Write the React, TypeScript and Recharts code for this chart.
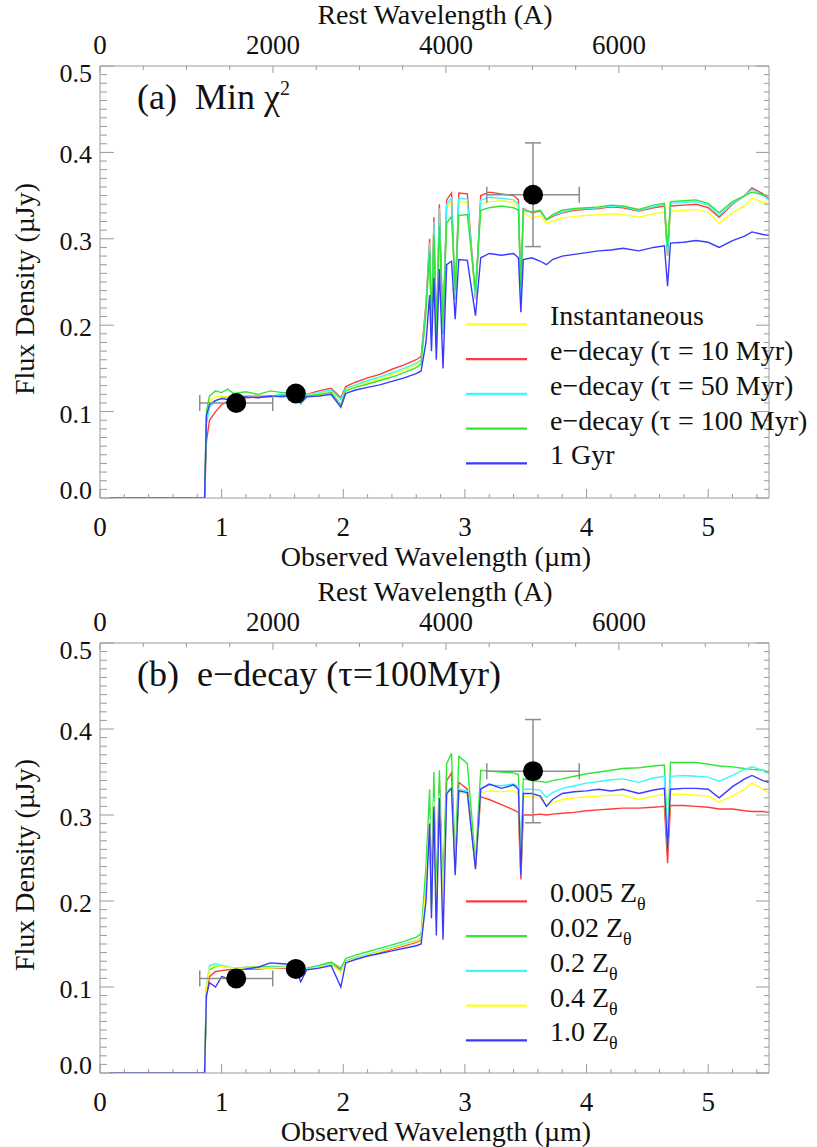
import React from "react";
import { ComposedChart, Line, Scatter, ErrorBar, XAxis, YAxis } from "recharts";

// observed wavelength grid (um), shared by every model spectrum
const WAVE = [
  0.08, 0.86, 0.875, 0.9, 0.95, 1.0, 1.05, 1.1, 1.2, 1.3,
  1.4, 1.5, 1.6, 1.65, 1.7, 1.8, 1.9, 1.98, 2.02, 2.1,
  2.2, 2.3, 2.4, 2.5, 2.6, 2.64, 2.68, 2.71, 2.725, 2.745,
  2.765, 2.79, 2.82, 2.85, 2.89, 2.92, 2.95, 3.02, 3.087, 3.13,
  3.2, 3.3, 3.4, 3.44, 3.46, 3.48, 3.55, 3.62, 3.67, 3.72,
  3.8, 3.9, 4.0, 4.1, 4.2, 4.3, 4.43, 4.55, 4.64, 4.666,
  4.69, 4.8, 4.9, 5.0, 5.09, 5.2, 5.3, 5.36, 5.45, 5.5,
];

// panel (a): star formation histories
const A_INST = [
  0, 0, 0.095, 0.112, 0.117, 0.118, 0.117, 0.118, 0.118, 0.119,
  0.118, 0.12, 0.12, 0.112, 0.119, 0.121, 0.124, 0.114, 0.126, 0.13,
  0.134, 0.138, 0.143, 0.148, 0.154, 0.158, 0.215, 0.29, 0.19, 0.315,
  0.18, 0.33, 0.19, 0.335, 0.344, 0.23, 0.343, 0.342, 0.23, 0.34,
  0.343, 0.344, 0.342, 0.336, 0.235, 0.33, 0.324, 0.327, 0.318, 0.32,
  0.324, 0.326, 0.327, 0.328, 0.329, 0.328, 0.325, 0.329, 0.331, 0.28,
  0.332, 0.333, 0.334, 0.331, 0.318, 0.33, 0.338, 0.347, 0.342, 0.34,
];
const A_TAU10 = [
  0, 0, 0.065, 0.09, 0.1, 0.108, 0.112, 0.114, 0.116, 0.117,
  0.117, 0.119, 0.12, 0.11, 0.12, 0.124, 0.127, 0.116, 0.129, 0.134,
  0.139, 0.143, 0.149, 0.154, 0.16, 0.164, 0.225, 0.3, 0.19, 0.325,
  0.18, 0.34, 0.19, 0.345, 0.353, 0.23, 0.353, 0.352, 0.23, 0.35,
  0.354, 0.352, 0.35, 0.345, 0.235, 0.335, 0.33, 0.332, 0.322, 0.326,
  0.33, 0.333, 0.334, 0.335, 0.337, 0.336, 0.332, 0.336, 0.338, 0.28,
  0.338, 0.339, 0.34, 0.336, 0.325, 0.34, 0.35, 0.359, 0.352, 0.346,
];
const A_TAU50 = [
  0, 0, 0.085, 0.105, 0.112, 0.116, 0.116, 0.117, 0.118, 0.119,
  0.118, 0.12, 0.121, 0.111, 0.12, 0.122, 0.125, 0.114, 0.127, 0.131,
  0.136, 0.14, 0.145, 0.15, 0.156, 0.16, 0.22, 0.295, 0.19, 0.32,
  0.18, 0.335, 0.19, 0.34, 0.347, 0.23, 0.347, 0.346, 0.23, 0.345,
  0.348, 0.347, 0.345, 0.34, 0.235, 0.334, 0.331, 0.333, 0.323, 0.327,
  0.331, 0.334, 0.335, 0.336, 0.338, 0.337, 0.333, 0.337, 0.34, 0.28,
  0.341, 0.342, 0.343, 0.339, 0.327, 0.341, 0.35, 0.357, 0.35, 0.345,
];
const A_TAU100 = [
  0, 0, 0.1, 0.118, 0.124, 0.122, 0.126, 0.121, 0.123, 0.12,
  0.124, 0.122, 0.122, 0.109, 0.118, 0.12, 0.122, 0.108, 0.124, 0.128,
  0.132, 0.136, 0.14, 0.145, 0.151, 0.155, 0.215, 0.285, 0.2, 0.305,
  0.19, 0.315, 0.2, 0.318, 0.326, 0.24, 0.327, 0.328, 0.24, 0.333,
  0.336, 0.338, 0.336, 0.333, 0.245, 0.333, 0.331, 0.333, 0.322, 0.328,
  0.333, 0.335, 0.336, 0.337, 0.339, 0.338, 0.334, 0.339, 0.341, 0.29,
  0.343, 0.344, 0.345, 0.341, 0.33, 0.343, 0.35, 0.354, 0.351, 0.35,
];
const A_GYR1 = [
  0, 0, 0.095, 0.108, 0.113, 0.115, 0.114, 0.116, 0.117, 0.116,
  0.118, 0.117, 0.119, 0.11, 0.117, 0.118, 0.12, 0.105, 0.121, 0.125,
  0.128, 0.131, 0.135, 0.139, 0.144, 0.147, 0.18, 0.235, 0.17, 0.255,
  0.16, 0.265, 0.15, 0.27, 0.274, 0.207, 0.276, 0.275, 0.211, 0.278,
  0.283, 0.281, 0.283, 0.278, 0.215, 0.276, 0.278, 0.274, 0.27, 0.276,
  0.28, 0.282, 0.284, 0.286, 0.287, 0.289, 0.286, 0.29, 0.292, 0.245,
  0.295, 0.296, 0.298, 0.296, 0.29, 0.298, 0.303, 0.308, 0.305, 0.304,
];

// panel (b): metallicities
const B_Z0005 = [
  0, 0, 0.09, 0.112, 0.118, 0.119, 0.12, 0.12, 0.121, 0.121,
  0.122, 0.122, 0.122, 0.117, 0.121, 0.124, 0.127, 0.12, 0.13, 0.134,
  0.137, 0.14, 0.144, 0.148, 0.152, 0.155, 0.22, 0.3, 0.2, 0.32,
  0.19, 0.335, 0.2, 0.34, 0.349, 0.235, 0.338, 0.33, 0.24, 0.321,
  0.318, 0.312, 0.306, 0.303, 0.225, 0.3, 0.3, 0.301, 0.3, 0.301,
  0.302, 0.303, 0.305, 0.306, 0.307, 0.308, 0.308, 0.309, 0.31, 0.244,
  0.311, 0.311, 0.31, 0.309, 0.307, 0.307, 0.305, 0.304, 0.304, 0.303,
];
const B_Z002 = [
  0, 0, 0.1, 0.12, 0.124, 0.124, 0.123, 0.122, 0.123, 0.123,
  0.124, 0.124, 0.124, 0.119, 0.122, 0.125, 0.129, 0.122, 0.133, 0.137,
  0.141, 0.145, 0.149, 0.153, 0.158, 0.162, 0.24, 0.33, 0.21, 0.35,
  0.2, 0.352, 0.21, 0.36, 0.372, 0.24, 0.368, 0.36, 0.245, 0.352,
  0.351, 0.35, 0.349, 0.347, 0.235, 0.342, 0.34, 0.339, 0.338, 0.34,
  0.342, 0.345, 0.348, 0.35, 0.352, 0.354, 0.355, 0.357, 0.358, 0.27,
  0.361, 0.361, 0.361, 0.359, 0.357, 0.356, 0.354, 0.353, 0.352, 0.35,
];
const B_Z02 = [
  0, 0, 0.1, 0.125, 0.127, 0.125, 0.124, 0.122, 0.122, 0.122,
  0.123, 0.123, 0.123, 0.116, 0.121, 0.124, 0.127, 0.118, 0.13, 0.134,
  0.138, 0.142, 0.146, 0.15, 0.154, 0.157, 0.22, 0.3, 0.19, 0.32,
  0.18, 0.325, 0.19, 0.327, 0.332, 0.235, 0.33, 0.328, 0.24, 0.331,
  0.335, 0.334, 0.336, 0.333, 0.235, 0.33, 0.33, 0.329, 0.32, 0.326,
  0.331, 0.334, 0.337, 0.339, 0.341, 0.342, 0.338, 0.343, 0.345, 0.27,
  0.345, 0.346, 0.345, 0.344, 0.339, 0.346, 0.353, 0.356, 0.352, 0.348,
];
const B_Z04 = [
  0, 0, 0.098, 0.122, 0.125, 0.124, 0.123, 0.122, 0.122, 0.122,
  0.122, 0.123, 0.123, 0.116, 0.12, 0.123, 0.126, 0.117, 0.129, 0.133,
  0.137, 0.141, 0.145, 0.149, 0.153, 0.156, 0.215, 0.295, 0.19, 0.315,
  0.18, 0.322, 0.19, 0.325, 0.329, 0.235, 0.326, 0.324, 0.24, 0.326,
  0.328, 0.327, 0.328, 0.325, 0.23, 0.322, 0.321, 0.32, 0.31, 0.314,
  0.318, 0.32, 0.321, 0.322, 0.323, 0.323, 0.318, 0.322, 0.324, 0.26,
  0.324, 0.324, 0.323, 0.322, 0.315, 0.322, 0.33, 0.337, 0.33, 0.325,
];
const B_Z10 = [
  0, 0, 0.09, 0.105, 0.1, 0.112, 0.11, 0.118, 0.121, 0.123,
  0.128, 0.127, 0.126, 0.106, 0.12, 0.122, 0.125, 0.1, 0.128, 0.132,
  0.136, 0.139, 0.142, 0.145, 0.148, 0.15, 0.2, 0.29, 0.18, 0.31,
  0.16, 0.32, 0.155, 0.325, 0.331, 0.23, 0.328, 0.326, 0.237, 0.33,
  0.336, 0.331, 0.335, 0.33, 0.23, 0.325, 0.325, 0.322, 0.31, 0.318,
  0.325, 0.327, 0.328, 0.33, 0.328, 0.33, 0.325, 0.329, 0.331, 0.26,
  0.33, 0.331, 0.331, 0.33, 0.32, 0.333, 0.342, 0.346, 0.34, 0.338,
];

// photometry (same in both panels)
const PHOT_X = [1.12, 1.61, 3.56];
const PHOT_Y = [0.11, 0.121, 0.351];
const PHOT_XERR = [0.3, 0, 0.38];
const PHOT_YERR = [0, 0, 0.06];

const X_MAJOR = [0, 1, 2, 3, 4, 5];
const Y_MAJOR = [0, 0.1, 0.2, 0.3, 0.4, 0.5];
const REST_LABELS = [0, 2000, 4000, 6000];
const ONE_PLUS_Z = 7.11;
const X_MAX = 5.5;

const xTicks = Array.from({ length: 28 }, (_, i) => Math.round(i * 2) / 10);
const yTicks = Array.from({ length: 51 }, (_, i) => i / 100);
// rest-frame ticks every 500 A, placed on the observed scale
const restTicks = Array.from({ length: 16 }, (_, i) => (i * 500 * ONE_PLUS_Z) / 1e4);

const FONT = '"Liberation Serif", "Times New Roman", serif';
const FRAME = "#9a9a9a";
const INK = "#111";

const YELLOW = "#ffff1a";
const RED = "#ff3b3b";
const CYAN = "#3cf6ff";
const GREEN = "#33e633";
const BLUE = "#3a3aff";

const near = (a: number, list: number[]) => list.some((b) => Math.abs(a - b) < 1e-9);

const BottomTick = ({ x, y, payload }: any) => {
  const major = near(payload.value, X_MAJOR);
  return (
    <g>
      <line x1={x} x2={x} y1={y} y2={y - (major ? 9 : 4)} stroke={FRAME} />
      {major && (
        <text x={x} y={y + 38} textAnchor="middle" fontFamily={FONT} fontSize={27} fill={INK}>
          {payload.value}
        </text>
      )}
    </g>
  );
};

const TopTick = ({ x, y, payload }: any) => {
  const rest = Math.round((payload.value / ONE_PLUS_Z) * 1e4);
  const major = REST_LABELS.includes(rest);
  return (
    <g>
      <line x1={x} x2={x} y1={y} y2={y + (major ? 7 : 4)} stroke={FRAME} />
      {major && (
        <text x={x} y={y - 12} textAnchor="middle" fontFamily={FONT} fontSize={27} fill={INK}>
          {rest}
        </text>
      )}
    </g>
  );
};

const LeftTick = ({ x, y, payload }: any) => {
  const v = payload.value;
  const major = near(v, Y_MAJOR);
  const shift = v > 0.45 ? 16 : v < 0.05 ? 1 : 11;
  return (
    <g>
      <line x1={x} x2={x + (major ? 14 : 7)} y1={y} y2={y} stroke={FRAME} />
      {major && (
        <text x={x - 8} y={y + shift} textAnchor="end" fontFamily={FONT} fontSize={26} fill={INK}>
          {v.toFixed(1)}
        </text>
      )}
    </g>
  );
};

const RightTick = ({ x, y, payload }: any) => {
  const major = near(payload.value, Y_MAJOR);
  return <line x1={x} x2={x - (major ? 13 : 5)} y1={y} y2={y} stroke={FRAME} />;
};

interface Series {
  key: string;
  name: React.ReactNode;
  color: string;
  values: number[];
}

const SERIES_A: Series[] = [
  { key: "inst", name: "Instantaneous", color: YELLOW, values: A_INST },
  { key: "tau10", name: "e\u2212decay (\u03c4 = 10 Myr)", color: RED, values: A_TAU10 },
  { key: "tau50", name: "e\u2212decay (\u03c4 = 50 Myr)", color: CYAN, values: A_TAU50 },
  { key: "tau100", name: "e\u2212decay (\u03c4 = 100 Myr)", color: GREEN, values: A_TAU100 },
  { key: "gyr1", name: "1 Gyr", color: BLUE, values: A_GYR1 },
];

const zsun = (z: string) => (
  <>
    {z} Z
    <tspan dy={8} fontSize={18}>
      {"\u03b8"}
    </tspan>
  </>
);

const SERIES_B: Series[] = [
  { key: "z0005", name: zsun("0.005"), color: RED, values: B_Z0005 },
  { key: "z002", name: zsun("0.02"), color: GREEN, values: B_Z002 },
  { key: "z02", name: zsun("0.2"), color: CYAN, values: B_Z02 },
  { key: "z04", name: zsun("0.4"), color: YELLOW, values: B_Z04 },
  { key: "z10", name: zsun("1.0"), color: BLUE, values: B_Z10 },
];

const PHOT = PHOT_X.map((x, i) => ({ x, y: PHOT_Y[i], ex: PHOT_XERR[i], ey: PHOT_YERR[i] }));

const Dot = (p: any) => <circle cx={p.cx} cy={p.cy} r={10} fill="#000" />;

interface PanelProps {
  series: Series[];
  title: React.ReactNode;
  height: number;
  topH: number;
  bottomH: number;
}

const Panel = ({ series, title, height, topH, bottomH }: PanelProps) => {
  const rows = WAVE.map((x, i) => {
    const r: Record<string, number> = { x };
    series.forEach((s) => (r[s.key] = s.values[i]));
    return r;
  });
  const plotBottom = height - bottomH;
  const midY = (topH + plotBottom) / 2 + 7;

  return (
    <div style={{ position: "relative", width: 817, height }}>
      <ComposedChart width={817} height={height} data={rows} margin={{ top: 0, right: 0, bottom: 0, left: 0 }}>
        <XAxis
          dataKey="x" type="number" domain={[0, X_MAX]} ticks={xTicks} interval={0}
          tickSize={0} tickMargin={0} height={bottomH} tick={BottomTick}
          axisLine={{ stroke: FRAME }} allowDataOverflow
        />
        <XAxis
          xAxisId="rest" dataKey="x" orientation="top" type="number" domain={[0, X_MAX]} ticks={restTicks}
          interval={0} tickSize={0} tickMargin={0} height={topH} tick={TopTick}
          axisLine={{ stroke: FRAME }} allowDataOverflow
        />
        <YAxis
          type="number" domain={[0, 0.5]} ticks={yTicks} interval={0} tickSize={0} tickMargin={0}
          width={100} tick={LeftTick} axisLine={{ stroke: FRAME }} allowDataOverflow
        />
        <YAxis
          yAxisId="r" orientation="right" type="number" domain={[0, 0.5]} ticks={yTicks} interval={0}
          tickSize={0} tickMargin={0} width={48} tick={RightTick} axisLine={{ stroke: FRAME }} allowDataOverflow
        />
        {series.map((s) => (
          <Line
            key={s.key} type="linear" dataKey={s.key} stroke={s.color} strokeWidth={1.4}
            dot={false} activeDot={false} isAnimationActive={false}
          />
        ))}
        <Scatter data={PHOT} dataKey="y" shape={Dot} isAnimationActive={false}>
          <ErrorBar dataKey="ex" direction="x" width={8} stroke="#8c8c8c" strokeWidth={1.5} isAnimationActive={false} />
          <ErrorBar dataKey="ey" direction="y" width={8} stroke="#8c8c8c" strokeWidth={1.5} isAnimationActive={false} />
        </Scatter>
      </ComposedChart>

      <svg
        width={817} height={height}
        style={{ position: "absolute", left: 0, top: 0, pointerEvents: "none" }}
        fontFamily={FONT} fill={INK}
      >
        <text x={435} y={24} textAnchor="middle" fontSize={28}>Rest Wavelength (A)</text>
        <text x={436} y={plotBottom + 68} textAnchor="middle" fontSize={28}>Observed Wavelength ({"\u00b5"}m)</text>
        <text transform={`translate(34,${midY}) rotate(-90)`} textAnchor="middle" fontSize={28}>
          Flux Density ({"\u00b5"}Jy)
        </text>
        <text x={137} y={topH + 43} fontSize={36} style={{ whiteSpace: "pre" }}>{title}</text>
        {series.map((s, i) => {
          const ly = 324.3 + i * 34.75;
          return (
            <g key={s.key}>
              <line x1={466} x2={527} y1={ly} y2={ly} stroke={s.color} strokeWidth={2.2} />
              <text x={550} y={ly + 1} fontSize={28}>{s.name}</text>
            </g>
          );
        })}
      </svg>
    </div>
  );
}

export default function App() {
  return (
    <div style={{ position: "absolute", left: 0, top: 0, width: 817, background: "#fff" }}>
      <Panel
        series={SERIES_A}
        height={577}
        topH={66}
        bottomH={79}
        title={
          <>
            (a)  Min {"\u03c7"}
            <tspan dy={-14} fontSize={20}>2</tspan>
          </>
        }
      />
      <Panel
        series={SERIES_B}
        height={570}
        topH={66}
        bottomH={74}
        title={<>(b)  e{"\u2212"}decay ({"\u03c4"}=100Myr)</>}
      />
    </div>
  );
}
